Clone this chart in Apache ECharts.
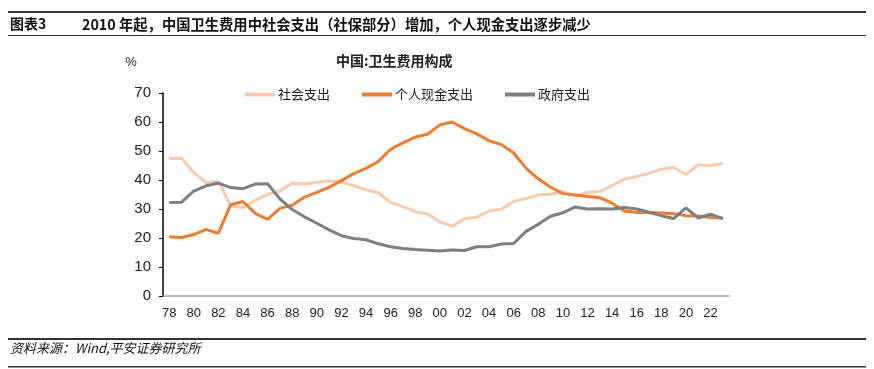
<!DOCTYPE html>
<html><head><meta charset="utf-8">
<script src="https://cdn.jsdelivr.net/npm/echarts@6/dist/echarts.min.js"></script>
<style>html,body{margin:0;padding:0;background:#fff}#c{width:874px;height:369px}</style>
</head><body><div id="c"></div>
<script>
var years = [];
for (var y = 1978; y <= 2023; y++) years.push(String(y).slice(2));
var socialExp = [47.4,47.5,42.6,39.0,39.6,31.1,30.4,33.0,35.0,36.2,38.9,38.6,39.2,39.7,39.3,38.1,36.6,35.6,32.3,30.8,29.1,28.3,25.6,24.1,26.6,27.2,29.3,29.9,32.6,33.6,34.9,35.1,36.0,34.6,35.7,36.0,38.1,40.3,41.2,42.3,43.7,44.3,41.9,45.3,44.9,45.8];
var personalExp = [20.4,20.2,21.2,23.0,21.6,31.5,32.6,28.5,26.4,30.2,31.3,34.1,35.7,37.5,39.8,42.2,44.0,46.4,50.6,52.8,54.8,55.8,59.0,60.0,57.7,55.9,53.6,52.2,49.3,44.1,40.4,37.5,35.3,34.8,34.3,33.9,32.0,29.3,28.8,28.8,28.6,28.4,27.7,27.6,27.1,26.9];
var govExp = [32.2,32.3,36.2,38.0,38.9,37.4,37.0,38.6,38.7,33.5,29.8,27.3,25.1,22.8,20.8,19.8,19.4,18.0,17.0,16.4,16.0,15.8,15.5,15.9,15.7,17.0,17.0,17.9,18.1,22.3,24.7,27.5,28.7,30.7,30.0,30.1,30.0,30.5,30.0,28.9,27.7,26.7,30.4,26.9,28.2,26.7];
var seriesNames = ['社会支出','个人现金支出','政府支出'];
var colors = ['#F8CBAD','#ED7D31','#7F7F7F'];

var chart = echarts.init(document.getElementById('c'));
var font = '"Noto Sans CJK SC","Noto Sans",sans-serif';
chart.setOption({
  animation: false,
  color: colors,
  title: {
    text: '中国:卫生费用构成',
    left: 331, top: 49,
    textStyle: {fontSize: 14, fontWeight: 'bold', color: '#222', fontFamily: font}
  },
  legend: {
    data: seriesNames,
    left: 240, top: 83,
    itemWidth: 30, itemHeight: 4, itemGap: 32,
    icon: 'rect',
    textStyle: {fontSize: 13, color: '#222', fontFamily: font, padding: [0,0,0,-2]}
  },
  grid: {left: 163, right: 145, top: 93, bottom: 73, containLabel: false},
  xAxis: {
    type: 'category', data: years, boundaryGap: true,
    axisLine: {lineStyle: {color: '#A6A6A6', width: 1.5}},
    axisTick: {show: false},
    axisLabel: {interval: 1, color: '#222', fontSize: 13, fontFamily: 'Liberation Sans, Arial', margin: 11}
  },
  yAxis: {
    type: 'value', min: 0, max: 70, interval: 10,
    name: '%', nameLocation: 'end', nameGap: 30,
    nameTextStyle: {fontSize: 13, color: '#222', fontFamily: 'Liberation Sans, Arial', padding: [0, 64, -6, 0]},
    axisLine: {show: true, lineStyle: {color: '#000', width: 1.5}},
    axisTick: {show: true, inside: false, length: 4, lineStyle: {color: '#000'}},
    splitLine: {show: false},
    axisLabel: {color: '#222', fontSize: 15, fontFamily: 'Liberation Sans, Arial', margin: 12}
  },
  series: [
    {name: seriesNames[0], type: 'line', data: socialExp, symbol: 'none', lineStyle: {width: 3}},
    {name: seriesNames[1], type: 'line', data: personalExp, symbol: 'none', lineStyle: {width: 3}},
    {name: seriesNames[2], type: 'line', data: govExp, symbol: 'none', lineStyle: {width: 3}}
  ],
  graphic: [
    {type: 'rect', shape: {x: 8, y: 11, width: 858, height: 2}, style: {fill: '#333'}},
    {type: 'text', left: 10, top: 17, style: {text: '图表3', font: 'bold 14px "Noto Sans CJK SC", sans-serif', fill: '#111'}},
    {type: 'text', left: 82, top: 17, style: {text: '2010 年起，中国卫生费用中社会支出（社保部分）增加，个人现金支出逐步减少', font: 'bold 14.3px "Noto Sans CJK SC", sans-serif', fill: '#111'}},
    {type: 'rect', shape: {x: 8, y: 35, width: 858, height: 1}, style: {fill: '#333'}},
    {type: 'rect', shape: {x: 8, y: 338, width: 858, height: 2}, style: {fill: '#333'}},
    {type: 'text', left: 10, top: 342, style: {text: '资料来源：Wind,平安证券研究所', font: 'italic 13px "Noto Sans CJK SC", sans-serif', fill: '#111'}},
    {type: 'rect', shape: {x: 8, y: 366, width: 858, height: 1.5}, style: {fill: '#333'}}
  ]
});
</script></body></html>
